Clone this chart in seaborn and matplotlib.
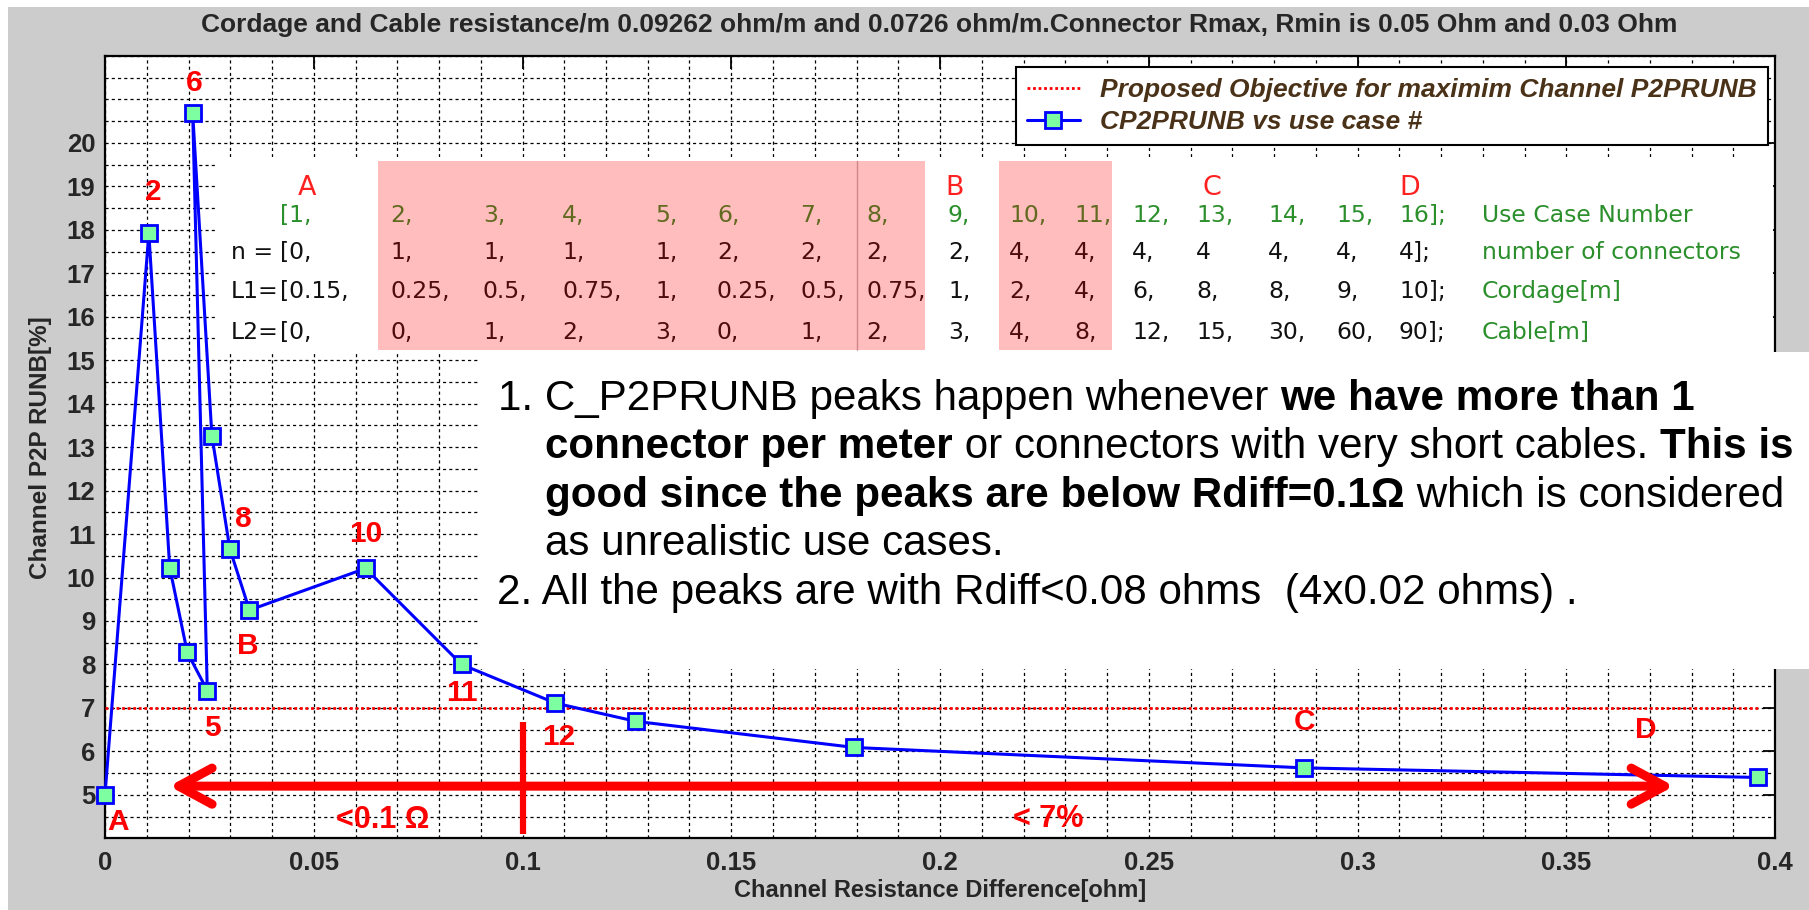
import matplotlib
matplotlib.use("Agg")
import matplotlib.pyplot as plt
import seaborn as sns
import numpy as np
import pandas as pd
from matplotlib.patches import Rectangle
from matplotlib.lines import Line2D
from matplotlib import font_manager
from matplotlib.ticker import MultipleLocator

# ---------------- data ----------------
use_case = list(range(1, 17))
rdiff_ohm = [0.0, 0.0105, 0.0155, 0.0197, 0.0245, 0.0210, 0.0256, 0.0299,
             0.0346, 0.0624, 0.0854, 0.1079, 0.1272, 0.1795, 0.2873, 0.3959]
p2prunb_pct = [5.00, 17.92, 10.23, 8.28, 7.40, 20.69, 13.26, 10.66,
               9.25, 10.21, 8.00, 7.11, 6.69, 6.09, 5.62, 5.40]
objective_pct = 7.0
rdiff_limit = 0.1

n_connectors = ['0', '1', '1', '1', '1', '2', '2', '2', '2', '4', '4', '4', '4', '4', '4', '4']
cordage_m = ['0.15', '0.25', '0.5', '0.75', '1', '0.25', '0.5', '0.75', '1', '2', '4', '6', '8', '8', '9', '10']
cable_m = ['0', '0', '1', '2', '3', '0', '1', '2', '3', '4', '8', '12', '15', '30', '60', '90']
row_names = ['', 'n =', 'L1=', 'L2=']
row_desc = ['Use Case Number', 'number of connectors', 'Cordage[m]', 'Cable[m]']
case_letters = {0: 'A', 8: 'B', 12: 'C', 15: 'D'}

title = ("Cordage and Cable resistance/m 0.09262 ohm/m and 0.0726 ohm/m."
         "Connector Rmax, Rmin is 0.05 Ohm and 0.03 Ohm")
xlabel = "Channel Resistance Difference[ohm]"
ylabel = "Channel P2P RUNB[%]"
legend_labels = ["Proposed Objective for maximim Channel P2PRUNB", "CP2PRUNB vs use case #"]

# point labels: index -> (text, dx px, dy px up)
point_labels = {0: ('A', 13, -27), 1: ('2', 4, 41), 4: ('5', 5, -37), 5: ('6', 2, 30),
                7: ('8', 13, 30), 8: ('B', -2, -36), 9: ('10', 0, 34), 10: ('11', 0, -29),
                11: ('12', 3, -34), 14: ('C', 0, 46), 15: ('D', -112, 47)}

note_lines = [
    [("1. C_P2PRUNB peaks happen whenever ", "normal"), ("we have more than 1", "bold")],
    [("connector per meter", "bold"), (" or connectors with very short cables. ", "normal"), ("This is", "bold")],
    [("good since the peaks are below Rdiff=0.1\u03a9", "bold"), (" which is considered", "normal")],
    [("as unrealistic use cases.", "normal")],
    [("2. All the peaks are with Rdiff<0.08 ohms  (4x0.02 ohms) .", "normal")],
]

# ---------------- layout ----------------
W, H = 1809, 910
def fx(x): return x / W
def fy(y): return 1 - y / H

avail = {f.name for f in font_manager.fontManager.ttflist}
SANS = 'Liberation Sans' if 'Liberation Sans' in avail else 'DejaVu Sans'
TABLE_FONT = 'DejaVu Sans'

sns.set_style("white")
plt.rcParams['font.family'] = [SANS, 'DejaVu Sans']

fig = plt.figure(figsize=(W / 100, H / 100), dpi=100)
fig.patch.set_facecolor('white')
fig.add_artist(Rectangle((fx(8), 0), 1 - fx(8), 1 - 7 / H, transform=fig.transFigure,
                         facecolor='#cccccc', edgecolor='none', zorder=-10))

ax_l, ax_r, ax_t, ax_b = 105, 1775, 56, 838.3
ax = fig.add_axes([fx(ax_l), fy(ax_b), (ax_r - ax_l) / W, (ax_b - ax_t) / H])
ax.set_facecolor('white')

renderer = fig.canvas.get_renderer()
def text_w(t):
    return t.get_window_extent(renderer).width
def fit(t, target):
    t.set_fontsize(t.get_fontsize() * target / text_w(t))
def seg_width(s, weight, size, family=SANS, style='normal'):
    a = fig.text(0, 0, s + '|', fontsize=size, fontweight=weight, family=family, style=style)
    b = fig.text(0, 0, '|', fontsize=size, fontweight=weight, family=family, style=style)
    w = text_w(a) - text_w(b)
    a.remove(); b.remove()
    return w

df = pd.DataFrame({'use_case': use_case, 'rdiff': rdiff_ohm, 'p2prunb': p2prunb_pct})
line_kw = dict(color='#0000ff', linewidth=2.2, marker='s', markersize=11,
               markerfacecolor='#7dffa1', markeredgecolor='#0000ff', markeredgewidth=2)
sns.lineplot(data=df, x='rdiff', y='p2prunb', sort=False, estimator=None, ax=ax,
             legend=False, zorder=5, clip_on=False, **line_kw)
ax.plot([df.rdiff.min(), df.rdiff.max()], [objective_pct, objective_pct], color='red',
        linestyle=(0, (1, 1)), linewidth=2, zorder=4)

ax.set_xlim(0, 0.4)
ax.set_ylim(4, 22)
xt = np.round(np.arange(0, 0.4001, 0.05), 2)
ax.set_xticks(xt)
ax.set_xticklabels([f'{v:g}' for v in xt], fontweight='bold', fontsize=18.5)
yt = list(range(5, 21))
ax.set_yticks(yt)
ax.set_yticklabels([str(v) for v in yt], fontweight='bold', fontsize=18.5)
ax.xaxis.set_minor_locator(MultipleLocator(0.01))
ax.yaxis.set_minor_locator(MultipleLocator(0.5))
ax.grid(True, which='both', color='black', linestyle=(0, (2.5, 2.5)), linewidth=0.9)
ax.tick_params(which='both', direction='in', top=True, right=True, color='black')
ax.tick_params(which='major', length=9, width=1.3)
ax.tick_params(axis='x', which='major', pad=9)
ax.tick_params(axis='y', which='major', pad=7)
ax.tick_params(which='minor', length=0)
for s in ax.spines.values():
    s.set_color('black'); s.set_linewidth(1.6)

ax.set_xlabel(xlabel, fontweight='bold', fontsize=17, va='center')
ax.xaxis.set_label_coords(0.5, (ax_b - 890) / (ax_b - ax_t))
ax.set_ylabel(ylabel, fontweight='bold', fontsize=17.5, va='center')
ax.yaxis.set_label_coords((41 - ax_l) / (ax_r - ax_l), 0.5)

# red point labels
for idx, (txt, dx, dy) in point_labels.items():
    ax.annotate(txt, (rdiff_ohm[idx], p2prunb_pct[idx]), xytext=(dx * 0.72, dy * 0.72),
                textcoords='offset points', ha='center', va='center', color='red',
                fontsize=21.5, fontweight='bold', zorder=6)

# bottom annotations
arrow_y = 5.2
ax.annotate('', xy=(0.3758, arrow_y), xytext=(0.0154, arrow_y),
            arrowprops=dict(arrowstyle='<->,head_length=1.2,head_width=0.65', color='red',
                            lw=6.5, mutation_scale=20, shrinkA=0, shrinkB=0), zorder=6)
ax.plot([rdiff_limit, rdiff_limit], [4.10, 6.67], color='red', linewidth=4.5, zorder=6,
        solid_capstyle='butt')
ax.text(0.0664, 4.41, '<0.1 \u03a9', color='red', fontsize=22, fontweight='bold',
        ha='center', va='center', zorder=6)
ax.text(0.2258, 4.45, '< 7%', color='red', fontsize=22, fontweight='bold',
        ha='center', va='center', zorder=6)

# legend
leg_size = 17.5 * 657 / seg_width(legend_labels[0], 'bold', 17.5, style='italic')
h1 = Line2D([], [], color='red', linestyle=(0, (1, 1)), linewidth=2)
h2 = Line2D([], [], **line_kw)
leg = ax.legend([h1, h2], legend_labels, loc='upper left',
                bbox_to_anchor=(fx(1016), fy(67), (1768 - 1016) / W, 0.0),
                bbox_transform=fig.transFigure, mode='expand', borderaxespad=0,
                frameon=True, fancybox=False, edgecolor='black', framealpha=1,
                prop={'family': SANS, 'weight': 'bold', 'style': 'italic', 'size': leg_size},
                handlelength=2.0, handletextpad=0.78, borderpad=0.42, labelspacing=0.3)
leg.get_frame().set_linewidth(1.5)
for t in leg.get_texts():
    t.set_color('#4a3218')

# title
tt = fig.text(fx(939), fy(25), title, ha='center', va='center', fontweight='bold', fontsize=18)
fit(tt, 1476)

# white panels
fig.add_artist(Rectangle((fx(215), fy(352)), (1773 - 215) / W, (352 - 157) / H,
                         transform=fig.transFigure, facecolor='white', edgecolor='none', zorder=1))
fig.add_artist(Rectangle((fx(480), fy(669)), (W - 480) / W, (669 - 352) / H,
                         transform=fig.transFigure, facecolor='white', edgecolor='none', zorder=1))

# ---------- table ----------
tsize = 15.8 * 211 / seg_width(row_desc[0], 'normal', 15.8, TABLE_FONT)
col_x = [280, 390, 483, 562, 655, 717, 800, 866, 948, 1009, 1074, 1132, 1196, 1268, 1336, 1399]
row_y = [213, 250, 289, 330]
t_em = tsize / 0.72
green = '#2b8f2b'

def tokens(vals, no_comma=()):
    out = []
    for i, v in enumerate(vals):
        if i == 0:
            out.append('[' + v + ',')
        elif i == len(vals) - 1:
            out.append(v + '];')
        else:
            out.append(v + ('' if i in no_comma else ','))
    return out

rows = [tokens([str(u) for u in use_case]), tokens(n_connectors, no_comma=(12,)),
        tokens(cordage_m), tokens(cable_m)]
for r, (toks, y) in enumerate(zip(rows, row_y)):
    base = y + 0.365 * t_em
    color = green if r == 0 else '#111111'
    for tok, x in zip(toks, col_x):
        fig.text(fx(x), fy(base), tok, family=TABLE_FONT, fontsize=tsize, color=color,
                 va='baseline', ha='left', zorder=4)
    if row_names[r]:
        fig.text(fx(231), fy(base), row_names[r], family=TABLE_FONT, fontsize=tsize,
                 color='#111111', va='baseline', ha='left', zorder=4)
    fig.text(fx(1482), fy(base), row_desc[r], family=TABLE_FONT, fontsize=tsize, color=green,
             va='baseline', ha='left', zorder=4)
letter_x = {0: 307, 8: 955, 12: 1212, 15: 1410}
for i, L in case_letters.items():
    fig.text(fx(letter_x[i]), fy(186 + 0.365 * t_em), L, family=TABLE_FONT, fontsize=tsize * 1.15,
             color='#ff2020', ha='center', va='baseline', zorder=4)

for (x0, x1) in [(378, 925), (999, 1112)]:
    fig.add_artist(Rectangle((fx(x0), fy(350)), (x1 - x0) / W, (350 - 161) / H,
                             transform=fig.transFigure, facecolor=(1, 0, 0), alpha=0.26,
                             edgecolor='none', zorder=5))
fig.add_artist(Line2D([fx(857), fx(857)], [fy(161), fy(350)], transform=fig.transFigure,
                      color='#a05050', alpha=0.5, linewidth=1, zorder=5))

# ---------- note block ----------
line_x = [498, 545, 545, 545, 497]
line_y = [394.6, 443, 491.5, 540, 588.4]
line_target_right = [1720, 1805, 1785, None, None]
base_size = 25
scales = []
for segs, x, right in zip(note_lines, line_x, line_target_right):
    if right is None:
        continue
    w = sum(seg_width(s, wt, base_size) for s, wt in segs)
    scales.append((right - x) / w)
nsize = base_size * min(scales)
n_em = nsize / 0.72
for segs, x, y in zip(note_lines, line_x, line_y):
    base = y + 0.36 * n_em
    for s, w in segs:
        fig.text(fx(x), fy(base), s, family=SANS, fontsize=nsize, fontweight=w,
                 color='black', va='baseline', ha='left', zorder=3)
        x += seg_width(s, w, nsize)

fig.savefig('out.png', dpi=100, facecolor=fig.get_facecolor())
